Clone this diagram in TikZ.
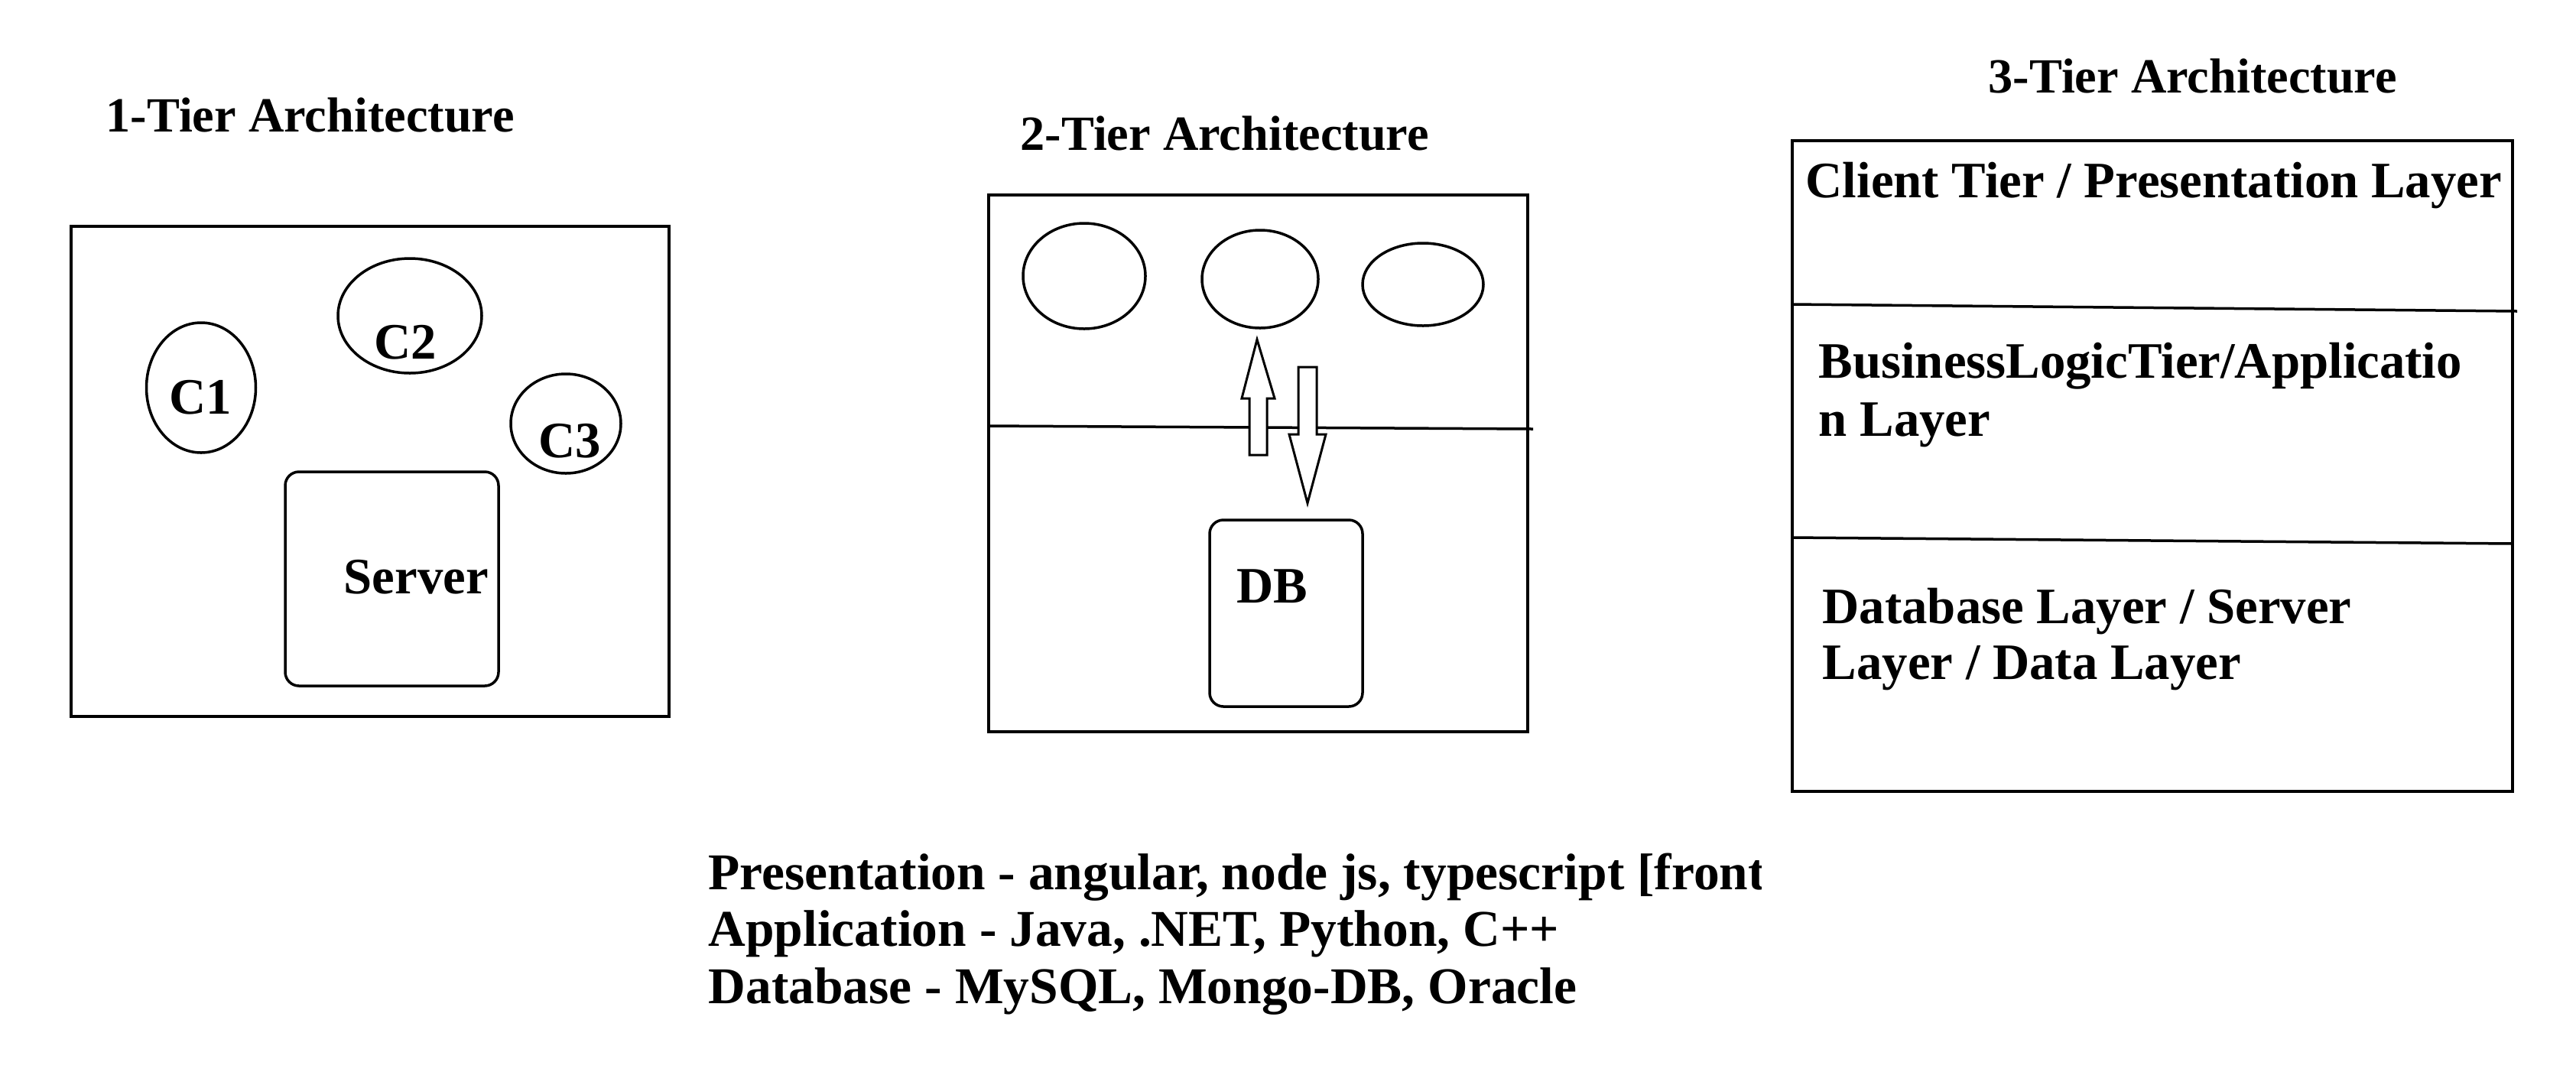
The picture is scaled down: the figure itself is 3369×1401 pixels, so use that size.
\documentclass[tikz,border=0pt]{standalone}
\usepackage{fontspec}
\setmainfont{Liberation Serif}
\usetikzlibrary{shapes.geometric}
\begin{document}
\begin{tikzpicture}[x=0.1mm,y=-0.1mm,
  frame/.style={draw,line width=0.4mm},
  sep/.style={draw,line width=0.35mm},
  client/.style={draw,ellipse,line width=0.35mm,inner sep=0pt},
  rbox/.style={draw,line width=0.35mm,rounded corners=1.8mm},
  lbl/.style={font=\fontsize{19}{20.7}\selectfont\bfseries,inner sep=0pt,anchor=base west,align=left},
  ttl/.style={font=\fontsize{18.3}{22}\selectfont\bfseries,inner sep=0pt,anchor=base west},
  blk/.style={draw,line width=0.3mm,fill=white,line join=miter}]
\useasboundingbox (0,0) rectangle (3369,1401);
% ---------- 1-Tier ----------
\node[ttl] (t1) at (138,172) {1-Tier Architecture};
\draw[frame] (93,296) rectangle (875,937);
\node[client,minimum width=14.3mm,minimum height=17.0mm] (c1) at (263,507) {};
\node[client,minimum width=18.8mm,minimum height=15.0mm] (c2) at (536,413) {};
\node[client,minimum width=14.4mm,minimum height=13.0mm] (c3) at (740,554) {};
\draw[rbox] (373,617) rectangle (652,897);
\node[lbl] (c1t) at (221,541) {C1};
\node[lbl] (c2t) at (489,469) {C2};
\node[lbl] (c3t) at (704,598) {C3};
\node[lbl] (srv) at (449,776) {Server};
% ---------- 2-Tier ----------
\node[ttl] (t2) at (1334,196) {2-Tier Architecture};
\draw[frame] (1293,255) rectangle (1998,957);
\draw[sep] (1291,557) -- (2005,561);
\node[client,minimum width=16.0mm,minimum height=13.8mm] (e1) at (1418,361) {};
\node[client,minimum width=15.2mm,minimum height=12.8mm] (e2) at (1648,365) {};
\node[client,minimum width=15.8mm,minimum height=10.8mm] (e3) at (1861,372) {};
\draw[rbox] (1582,680) rectangle (1782,924);
\node[lbl] (db) at (1617,788) {DB};
% block arrows
\draw[blk] (1644,444) -- (1667,521) -- (1657,521) -- (1657,595) -- (1634,595) -- (1634,521) -- (1624,521) -- cycle;
\draw[blk] (1710,658) -- (1734,568) -- (1722,568) -- (1722,480) -- (1698,480) -- (1698,568) -- (1686,568) -- cycle;
% ---------- 3-Tier ----------
\node[ttl] (t3) at (2600,121) {3-Tier Architecture};
\draw[frame] (2344,184) rectangle (3286,1035);
\draw[sep] (2344,398) -- (3292,407);
\draw[sep] (2344,703) -- (3286,711);
\node[lbl] (l1) at (2361,258) {Client Tier / Presentation Layer};
\node[lbl,font=\fontsize{19}{21.5}\selectfont\bfseries] (l2) at (2378,570) {BusinessLogicTier/Applicatio\\n Layer};
\node[lbl,font=\fontsize{19}{20.5}\selectfont\bfseries] (l3) at (2383,888) {Database Layer / Server\\Layer / Data Layer};
% ---------- bottom notes ----------
\begin{scope}
\clip (0,0) rectangle (2303,1401);
\node[lbl,font=\fontsize{19.2}{21.2}\selectfont\bfseries] (notes) at (926,1312) {Presentation - angular, node js, typescript [front end]\\Application - Java, .NET, Python, C++\\Database - MySQL, Mongo-DB, Oracle};
\end{scope}
\end{tikzpicture}
\end{document}
